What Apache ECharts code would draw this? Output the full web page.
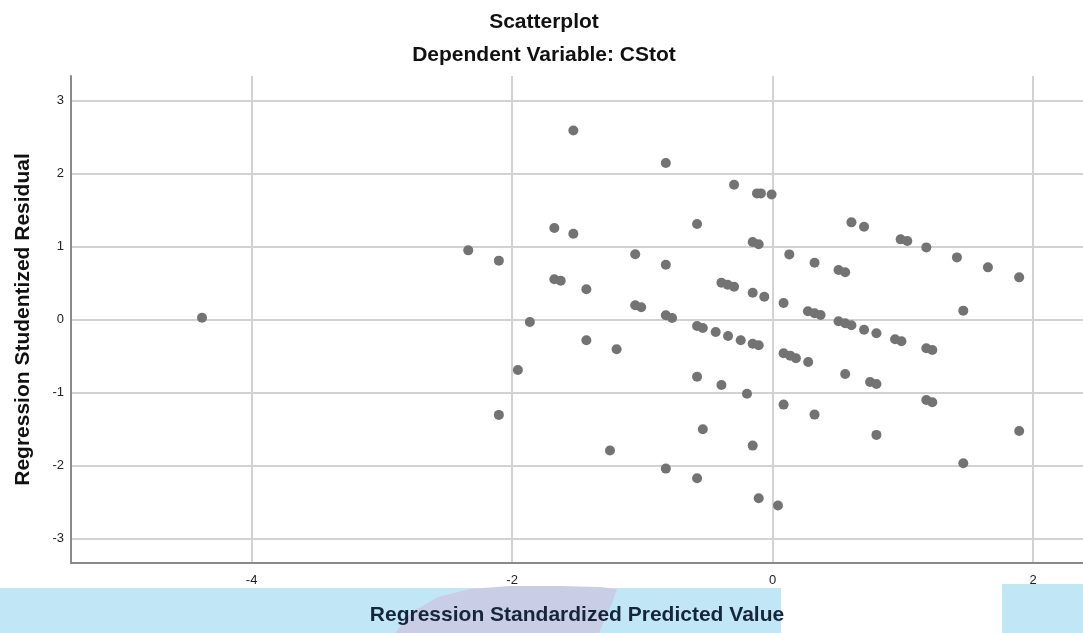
<!DOCTYPE html>
<html>
<head>
<meta charset="utf-8">
<script src="https://cdn.jsdelivr.net/npm/echarts@6/dist/echarts.min.js"></script>
<style>
  html, body { margin: 0; padding: 0; background: #ffffff; }
  #chart { width: 1083px; height: 633px; }
</style>
</head>
<body>
<div id="chart"></div>
<script>
// Regression diagnostics: standardized predicted value vs studentized residual
const predicted = [
  -4.381, -2.337, -2.102, -2.102, -1.956, -1.864, -1.676, -1.676, -1.627, -1.530,
  -1.530, -1.430, -1.430, -1.249, -1.198, -1.055, -1.055, -1.009, -0.820, -0.820,
  -0.820, -0.772, -0.820, -0.580, -0.580, -0.536, -0.580, -0.536, -0.580, -0.437,
  -0.393, -0.345, -0.296, -0.342, -0.393, -0.296, -0.245, -0.197, -0.153, -0.107,
  -0.153, -0.064, -0.153, -0.107, -0.153, -0.107, -0.120, -0.090, -0.008, 0.041,
  0.084, 0.084, 0.135, 0.179, 0.084, 0.128, 0.271, 0.322, 0.368, 0.273,
  0.322, 0.322, 0.506, 0.557, 0.506, 0.557, 0.605, 0.557, 0.605, 0.702,
  0.702, 0.797, 0.748, 0.797, 0.797, 0.983, 1.034, 0.940, 0.989, 1.180,
  1.180, 1.226, 1.180, 1.226, 1.415, 1.464, 1.464, 1.653, 1.893, 1.893
];
const residual = [
  0.027, 0.950, 0.809, -1.305, -0.689, -0.032, 1.256, 0.553, 0.534, 2.594,
  1.178, 0.416, -0.282, -1.794, -0.406, 0.896, 0.197, 0.170, 2.147, 0.754,
  0.060, 0.023, -2.041, 1.311, -0.086, -0.114, -0.781, -1.502, -2.173, -0.168,
  0.507, 0.479, 0.452, -0.223, -0.895, 1.849, -0.282, -1.014, 1.064, 1.033,
  0.370, 0.315, -0.329, -0.351, -1.726, -2.447, 1.731, 1.731, 1.717, -2.548,
  0.229, -0.461, -0.493, -0.529, -1.164, 0.895, 0.115, 0.088, 0.064, -0.579,
  0.781, -1.301, 0.681, 0.649, -0.022, -0.049, -0.077, -0.744, 1.334, 1.274,
  -0.137, -0.186, -0.853, -0.881, -1.579, 1.101, 1.078, -0.268, -0.296, 0.991,
  -0.392, -0.415, -1.100, -1.132, 0.854, 0.124, -1.967, 0.717, 0.580, -1.525
];
const xTickLabels = [-4, -2, 0, 2];
const yTickLabels = [-3, -2, -1, 0, 1, 2, 3];

const titleText = 'Scatterplot';
const subtitleText = 'Dependent Variable: CStot';
const xName = 'Regression Standardized Predicted Value';
const yName = 'Regression Studentized Residual';

const points = predicted.map((v, i) => [v, residual[i]]);
const FONT = '"Liberation Sans", Arial, sans-serif';

const chart = echarts.init(document.getElementById('chart'), null, { renderer: 'canvas' });

chart.setOption({
  animation: false,
  backgroundColor: '#ffffff',
  graphic: [
    // light page band behind the bottom axis title
    { type: 'rect', z: -10, shape: { x: 0, y: 588, width: 781, height: 45 }, style: { fill: '#c1e7f7' } },
    { type: 'rect', z: -10, shape: { x: 1002, y: 584, width: 81, height: 49 }, style: { fill: '#c1e7f7' } },
    {
      type: 'polygon', z: -9,
      shape: {
        points: [[395, 633], [412, 612], [438, 597], [470, 589], [510, 586], [560, 586],
                 [600, 587], [617, 589], [611, 606], [604, 621], [599, 633]]
      },
      style: { fill: '#cacde6' }
    },
    {
      type: 'text', x: 544, y: 12,
      style: { text: titleText, textAlign: 'center', align: 'center', textVerticalAlign: 'top', verticalAlign: 'top',
               font: 'bold 21px ' + FONT, fill: '#111111' }
    },
    {
      type: 'text', x: 544, y: 45,
      style: { text: subtitleText, textAlign: 'center', align: 'center', textVerticalAlign: 'top', verticalAlign: 'top',
               font: 'bold 21px ' + FONT, fill: '#111111' }
    }
  ],
  grid: { left: 71, top: 76, width: 1014, height: 487, containLabel: false },
  xAxis: {
    type: 'value',
    min: -5.387,
    max: 2.383,
    splitNumber: 4,
    name: xName,
    nameLocation: 'middle',
    nameGap: 42,
    nameTextStyle: { fontFamily: FONT, fontSize: 21, fontWeight: 'bold', color: '#16263a' },
    axisLine: { show: true, onZero: false, lineStyle: { color: '#8a8a8a', width: 2 } },
    axisTick: { show: false, customValues: xTickLabels },
    axisLabel: {
      customValues: xTickLabels,
      margin: 11, fontFamily: FONT, fontSize: 13, color: '#222222'
    },
    splitLine: { show: true, lineStyle: { color: '#d2d2d2', width: 2 } }
  },
  yAxis: {
    type: 'value',
    min: -3.335,
    max: 3.34,
    splitNumber: 7,
    name: yName,
    nameLocation: 'middle',
    nameGap: 37,
    nameTextStyle: { fontFamily: FONT, fontSize: 21, fontWeight: 'bold', color: '#111111' },
    axisLine: { show: true, onZero: false, lineStyle: { color: '#8a8a8a', width: 2 } },
    axisTick: { show: false, customValues: yTickLabels },
    axisLabel: {
      customValues: yTickLabels,
      margin: 7, fontFamily: FONT, fontSize: 13, color: '#222222'
    },
    splitLine: { show: true, lineStyle: { color: '#d2d2d2', width: 2 } }
  },
  series: [{
    type: 'scatter',
    data: points,
    symbol: 'circle',
    symbolSize: 10,
    itemStyle: { color: '#737373', opacity: 1 },
    emphasis: { disabled: true }
  }]
});
</script>
</body>
</html>
